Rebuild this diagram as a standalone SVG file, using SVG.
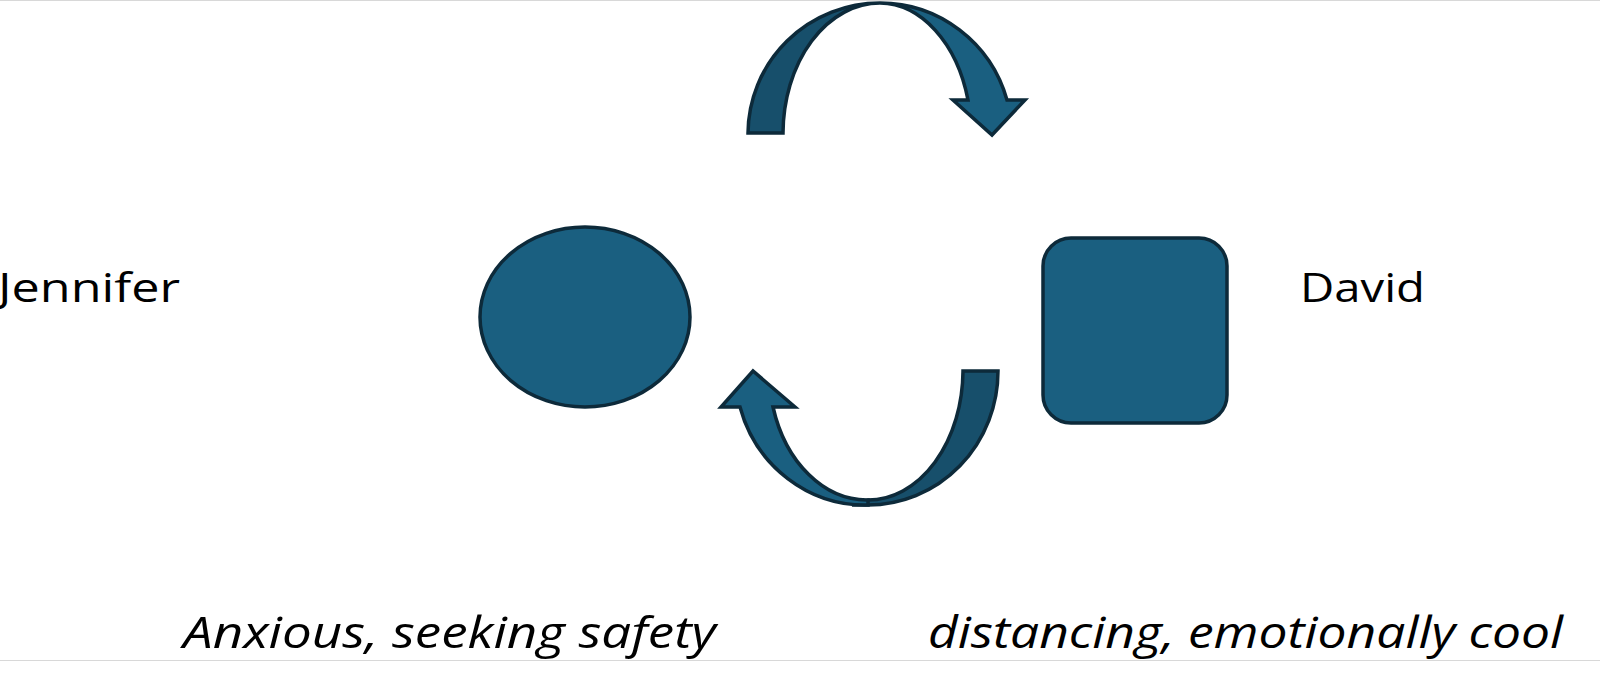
<svg xmlns="http://www.w3.org/2000/svg" width="1600" height="674" viewBox="0 0 1600 674">
<style>
.s{fill:#1a5f80;stroke:#0d2a3a;stroke-width:3.5;stroke-linejoin:miter}
.d{fill:#174f6b;stroke:#0d2a3a;stroke-width:3.5}
.t{font-family:"Open Sans","Liberation Sans",sans-serif;fill:#000}
.i{font-style:italic}
</style>
<rect width="1600" height="674" fill="#fff"/>
<line x1="0" y1="0.5" x2="1600" y2="0.5" stroke="#d8d8d8"/>
<line x1="0" y1="660.5" x2="1600" y2="660.5" stroke="#d8d8d8"/>
<g id="jennifer-shape"><ellipse class="s" cx="585" cy="317" rx="105" ry="90"/></g>
<g id="david-shape"><rect class="s" x="1043" y="238" width="184" height="185" rx="28"/></g>
<g id="connectors">
<path class="d" d="M748,133 A132,131 0 0 1 880,3 A97,131 0 0 0 783,133 Z"/>
<path class="s" d="M880,3 A132,134 0 0 1 1007,100 L1025,100 L992,135 L953,100 L968,100 A92,132 0 0 0 880,3 Z"/>
<path class="d" d="M998,371 A130,134 0 0 1 868,505 L852,505 L868,500 A95,130 0 0 0 963,371 Z"/>
<path class="s" d="M868,505 A130,134 0 0 1 740,407 L721,407 L753,371 L795,407 L773,407 A98,130 0 0 0 868,500 Z"/>
</g>
<g id="jennifer"><text class="t" x="-2" y="302" font-size="40" textLength="182" lengthAdjust="spacingAndGlyphs">Jennifer</text></g>
<g id="david"><text class="t" x="1300" y="302" font-size="40" textLength="125" lengthAdjust="spacingAndGlyphs">David</text></g>
<g id="jennifer-label"><text class="t i" x="183" y="648" font-size="44" textLength="533" lengthAdjust="spacingAndGlyphs">Anxious, seeking safety</text></g>
<g id="david-label"><text class="t i" x="928" y="648" font-size="44" textLength="635" lengthAdjust="spacingAndGlyphs">distancing, emotionally cool</text></g>
</svg>
